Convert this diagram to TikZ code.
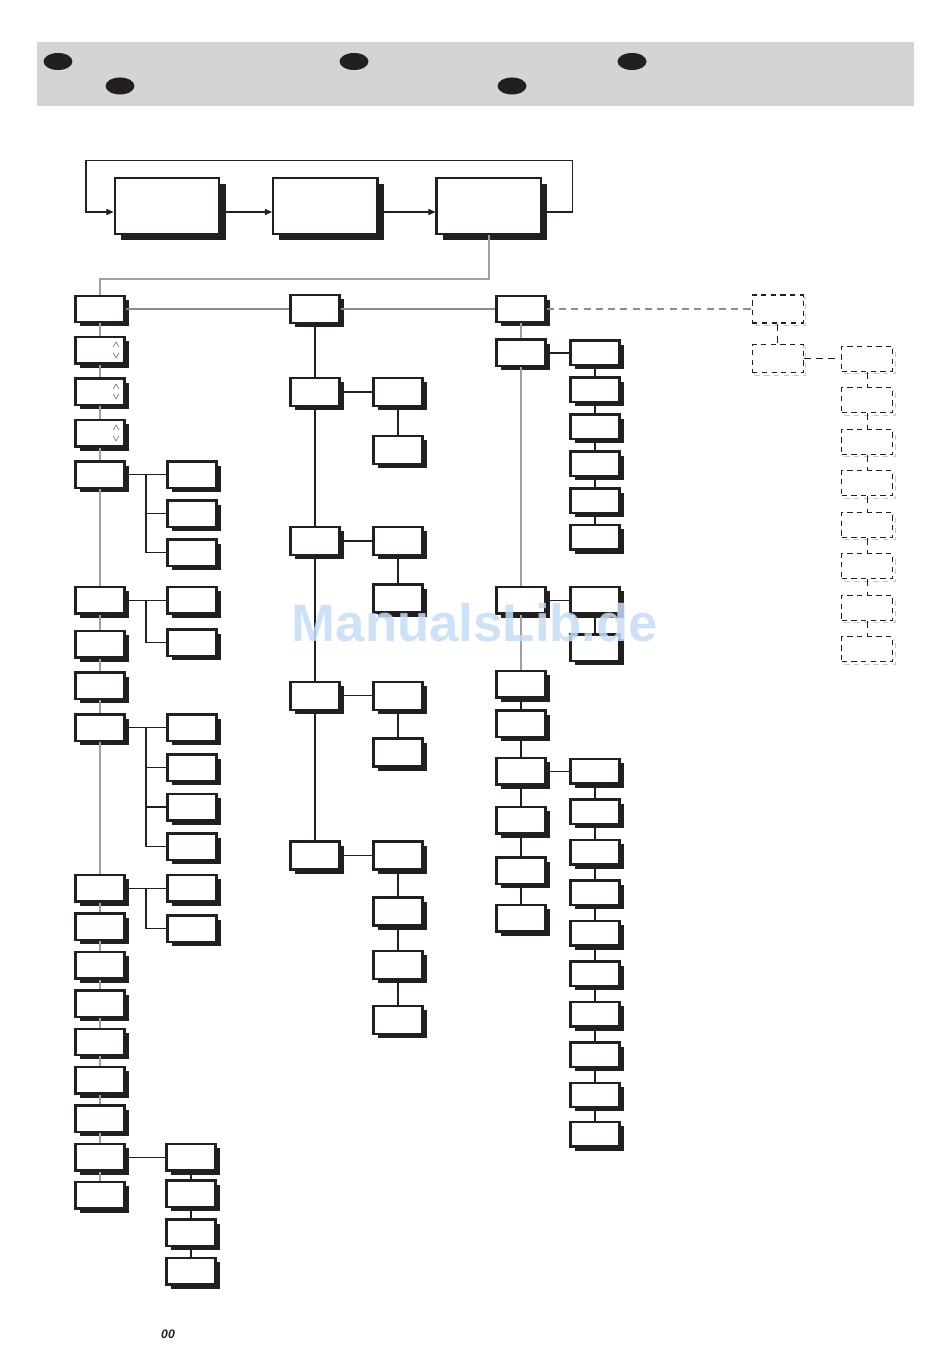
\documentclass[tikz,border=0pt]{standalone}
\usepackage{fontspec}
\usepackage{tikz}
\usetikzlibrary{
  positioning,
  arrows.meta,
  shapes.geometric,
  shadows,
  calc
}
\newfontfamily\wmfont{Liberation Sans}
\definecolor{ink}{RGB}{35,31,32}
\definecolor{bandgray}{RGB}{212,212,212}
\definecolor{spinegray}{RGB}{160,160,160}
\definecolor{rowgray}{RGB}{140,140,140}
\definecolor{wmblue}{RGB}{198,220,246}

\begin{document}
\begin{tikzpicture}[
  menubox/.style={
    rectangle,
    draw=ink,
    fill=white,
    line width=1.4pt,
    minimum width=0.98cm,
    minimum height=0.53cm,
    inner sep=0pt,
    drop shadow={shadow xshift=0.085cm, shadow yshift=-0.085cm, fill=ink, opacity=1}
  },
  tallbox/.style={menubox, minimum height=0.56cm},
  flatbox/.style={menubox, minimum height=0.49cm},
  mainbox/.style={
    rectangle,
    draw=ink,
    fill=white,
    line width=1.4pt,
    minimum width=2.09cm,
    minimum height=1.12cm,
    inner sep=0pt,
    drop shadow={shadow xshift=0.125cm, shadow yshift=-0.125cm, fill=ink, opacity=1}
  },
  ghostbox/.style={
    rectangle,
    draw=ink,
    fill=white,
    line width=0.6pt,
    dash pattern=on 3pt off 2.5pt,
    minimum width=1.02cm,
    minimum height=0.56cm,
    inner sep=0pt,
    preaction={draw=black!22, transform canvas={shift={(0.05cm,-0.05cm)}}}
  },
  link/.style={draw=ink, line width=0.7pt},
  spine/.style={draw=spinegray, line width=1pt},
  dlink/.style={draw=ink, line width=0.6pt, dash pattern=on 4pt off 3pt},
  flow/.style={-{Triangle[length=4pt, width=3.5pt]}, draw=ink, line width=0.6pt},
  flag/.style={ellipse, fill=ink, minimum width=0.58cm, minimum height=0.34cm, inner sep=0pt},
  chev/.style={font=\tiny, inner sep=0pt, text=ink}
]
\useasboundingbox (0,0) rectangle (19,-27.06);

\node[fill=bandgray, minimum width=17.54cm, minimum height=1.28cm, inner sep=0pt] (band) at (9.51,-1.48) {};
\node[flag] (flag1) at (1.16,-1.23) {};
\node[flag] (flag2) at (2.40,-1.72) {};
\node[flag] (flag3) at (7.08,-1.23) {};
\node[flag] (flag4) at (10.24,-1.72) {};
\node[flag] (flag5) at (12.64,-1.23) {};

\node[mainbox] (T1) at (3.34,-4.12) {};
\node[mainbox, right=1.03cm of T1] (T2) {};
\node[mainbox, right=1.13cm of T2] (T3) {};

\draw[flow] ([yshift=-0.12cm]T1.east) -- ([yshift=-0.12cm]T2.west);
\draw[flow] ([yshift=-0.12cm]T2.east) -- ([yshift=-0.12cm]T3.west);
\draw[flow] ([yshift=-0.12cm]T3.east) -| ($(T3.north east)+(0.6,0.33)$) -| ($(T1.north west)+(-0.55,0.33)$) |- ([yshift=-0.12cm]T1.west);

\node[menubox] (L0) at (2.0,-6.18) {};
\node[menubox, below=0.25cm of L0] (L1) {};
\node[menubox, below=0.25cm of L1] (L2) {};
\node[menubox, below=0.25cm of L2] (L3) {};
\node[menubox, below=0.25cm of L3] (L4) {};
\node[menubox, below=1.93cm of L4] (L5) {};
\node[menubox, below=0.3cm of L5] (L6) {};
\node[menubox, below=0.25cm of L6] (L7) {};
\node[menubox, below=0.26cm of L7] (L8) {};
\node[menubox, below=2.63cm of L8] (L9) {};
\node[menubox, below=0.19cm of L9] (L10) {};
\node[menubox, below=0.19cm of L10] (L11) {};
\node[menubox, below=0.19cm of L11] (L12) {};
\node[menubox, below=0.19cm of L12] (L13) {};
\node[menubox, below=0.19cm of L13] (L14) {};
\node[menubox, below=0.19cm of L14] (L15) {};
\node[menubox, below=0.19cm of L15] (L16) {};
\node[menubox, below=0.18cm of L16] (L17) {};

\node[chev] (L1up) at ([xshift=-0.19cm, yshift=0.1cm]L1.east) {$\wedge$};
\node[chev] (L1dn) at ([xshift=-0.19cm, yshift=-0.11cm]L1.east) {$\vee$};
\node[chev] (L2up) at ([xshift=-0.19cm, yshift=0.1cm]L2.east) {$\wedge$};
\node[chev] (L2dn) at ([xshift=-0.19cm, yshift=-0.11cm]L2.east) {$\vee$};
\node[chev] (L3up) at ([xshift=-0.19cm, yshift=0.1cm]L3.east) {$\wedge$};
\node[chev] (L3dn) at ([xshift=-0.19cm, yshift=-0.11cm]L3.east) {$\vee$};

\node[menubox, right=0.81cm of L4] (LA1) {};
\node[menubox, below=0.2cm of LA1] (LA2) {};
\node[menubox, below=0.2cm of LA2] (LA3) {};
\node[menubox, right=0.81cm of L5] (LB1) {};
\node[menubox, below=0.27cm of LB1] (LB2) {};
\node[menubox, right=0.81cm of L8] (LC1) {};
\node[menubox, below=0.22cm of LC1] (LC2) {};
\node[menubox, below=0.21cm of LC2] (LC3) {};
\node[menubox, below=0.21cm of LC3] (LC4) {};
\node[menubox, right=0.81cm of L9] (LE1) {};
\node[menubox, below=0.23cm of LE1] (LE2) {};
\node[menubox, right=0.79cm of L16] (LD1) {};
\node[menubox, below=0.15cm of LD1] (LD2) {};
\node[menubox, below=0.2cm of LD2] (LD3) {};
\node[menubox, below=0.19cm of LD3] (LD4) {};

\node[tallbox, right=3.27cm of L0] (M0) {};
\node[tallbox, below=1.05cm of M0] (M1) {};
\node[tallbox, below=2.37cm of M1] (M2) {};
\node[tallbox, below=2.49cm of M2] (M3) {};
\node[tallbox, below=2.58cm of M3] (M4) {};
\node[tallbox, right=0.63cm of M1] (MA1) {};
\node[tallbox, below=0.55cm of MA1] (MA2) {};
\node[tallbox, right=0.63cm of M2] (MB1) {};
\node[tallbox, below=0.54cm of MB1] (MB2) {};
\node[tallbox, right=0.63cm of M3] (MC1) {};
\node[tallbox, below=0.52cm of MC1] (MC2) {};
\node[tallbox, right=0.63cm of M4] (MD1) {};
\node[tallbox, below=0.51cm of MD1] (MD2) {};
\node[tallbox, below=0.46cm of MD2] (MD3) {};
\node[tallbox, below=0.5cm of MD3] (MD4) {};

\node[menubox, right=3.09cm of M0] (R0) {};
\node[menubox, below=0.3cm of R0] (R1) {};
\node[menubox, below=4.37cm of R1] (R2) {};
\node[menubox, below=1.1cm of R2] (R3) {};
\node[menubox, below=0.21cm of R3] (R4) {};
\node[menubox, below=0.37cm of R4] (R5) {};
\node[menubox, below=0.4cm of R5] (R6) {};
\node[menubox, below=0.43cm of R6] (R7) {};
\node[menubox, below=0.37cm of R7] (R8) {};
\node[flatbox, right=0.45cm of R1] (RA1) {};
\node[flatbox, below=0.2cm of RA1] (RA2) {};
\node[flatbox, below=0.2cm of RA2] (RA3) {};
\node[flatbox, below=0.2cm of RA3] (RA4) {};
\node[flatbox, below=0.2cm of RA4] (RA5) {};
\node[flatbox, below=0.19cm of RA5] (RA6) {};
\node[menubox, right=0.45cm of R2] (RB1) {};
\node[menubox, below=0.37cm of RB1] (RB2) {};
\node[flatbox, right=0.45cm of R5] (RC1) {};
\node[flatbox, below=0.27cm of RC1] (RC2) {};
\node[flatbox, below=0.27cm of RC2] (RC3) {};
\node[flatbox, below=0.27cm of RC3] (RC4) {};
\node[flatbox, below=0.27cm of RC4] (RC5) {};
\node[flatbox, below=0.27cm of RC5] (RC6) {};
\node[flatbox, below=0.27cm of RC6] (RC7) {};
\node[flatbox, below=0.27cm of RC7] (RC8) {};
\node[flatbox, below=0.27cm of RC8] (RC9) {};
\node[flatbox, below=0.25cm of RC9] (RC10) {};

\node[ghostbox, right=4.1cm of R0] (D0) {};
\node[ghostbox, below=0.41cm of D0] (D1) {};
\node[ghostbox, minimum height=0.5cm, right=0.75cm of D1] (DA1) {};
\node[ghostbox, minimum height=0.5cm, below=0.31cm of DA1] (DA2) {};
\node[ghostbox, minimum height=0.5cm, below=0.31cm of DA2] (DA3) {};
\node[ghostbox, minimum height=0.5cm, below=0.31cm of DA3] (DA4) {};
\node[ghostbox, minimum height=0.5cm, below=0.31cm of DA4] (DA5) {};
\node[ghostbox, minimum height=0.5cm, below=0.31cm of DA5] (DA6) {};
\node[ghostbox, minimum height=0.5cm, below=0.31cm of DA6] (DA7) {};
\node[ghostbox, minimum height=0.5cm, below=0.31cm of DA7] (DA8) {};

\draw[spine] (T3.south) -- ++(0,-0.88) -| (L0.north);
\draw[spine, draw=rowgray] (L0) -- (M0) -- (R0);
\draw[dlink, draw=rowgray] (R0) -- (D0);
\draw[spine] (L0) -- (L1) -- (L2) -- (L3) -- (L4) -- (L5) -- (L6) -- (L7) -- (L8) -- (L9) -- (L10) -- (L11) -- (L12) -- (L13) -- (L14) -- (L15) -- (L16) -- (L17);

\coordinate (busA) at ($(L4.east)!.5!(LA1.west)$);
\draw[link] (L4) -- (LA1);
\draw[link] (busA) |- (LA2);
\draw[link] (busA) |- (LA3);
\coordinate (busB) at ($(L5.east)!.5!(LB1.west)$);
\draw[link] (L5) -- (LB1);
\draw[link] (busB) |- (LB2);
\coordinate (busC) at ($(L8.east)!.5!(LC1.west)$);
\draw[link] (L8) -- (LC1);
\draw[link] (busC) |- (LC2);
\draw[link] (busC) |- (LC3);
\draw[link] (busC) |- (LC4);
\coordinate (busE) at ($(L9.east)!.5!(LE1.west)$);
\draw[link] (L9) -- (LE1);
\draw[link] (busE) |- (LE2);
\draw[link] (L16) -- (LD1);
\draw[link] (LD1) -- (LD2) -- (LD3) -- (LD4);

\draw[link] (M0) -- (M1) -- (M2) -- (M3) -- (M4);
\draw[link] (M1) -- (MA1) -- (MA2);
\draw[link] (M2) -- (MB1) -- (MB2);
\draw[link] (M3) -- (MC1) -- (MC2);
\draw[link] (M4) -- (MD1) -- (MD2) -- (MD3) -- (MD4);

\draw[spine] (R0) -- (R1) -- (R2) -- (R3);
\draw[link] (R3) -- (R4) -- (R5) -- (R6) -- (R7) -- (R8);
\draw[link] (R1) -- (RA1) -- (RA2) -- (RA3) -- (RA4) -- (RA5) -- (RA6);
\draw[link] (R2) -- (RB1) -- (RB2);
\draw[link] (R5) -- (RC1) -- (RC2) -- (RC3) -- (RC4) -- (RC5) -- (RC6) -- (RC7) -- (RC8) -- (RC9) -- (RC10);

\draw[dlink] (D0) -- (D1);
\draw[dlink] (D1) -- (DA1) -- (DA2) -- (DA3) -- (DA4) -- (DA5) -- (DA6) -- (DA7) -- (DA8);

\node[font=\wmfont\bfseries\itshape\fontsize{7}{8}\selectfont, text=ink] (pagenum) at (3.36,-26.69) {00};
\node[font=\wmfont\bfseries\fontsize{30}{36}\selectfont, text=wmblue, opacity=0.85] (wmark) at (9.5,-12.46) {ManualsLib.de};

\end{tikzpicture}
\end{document}
